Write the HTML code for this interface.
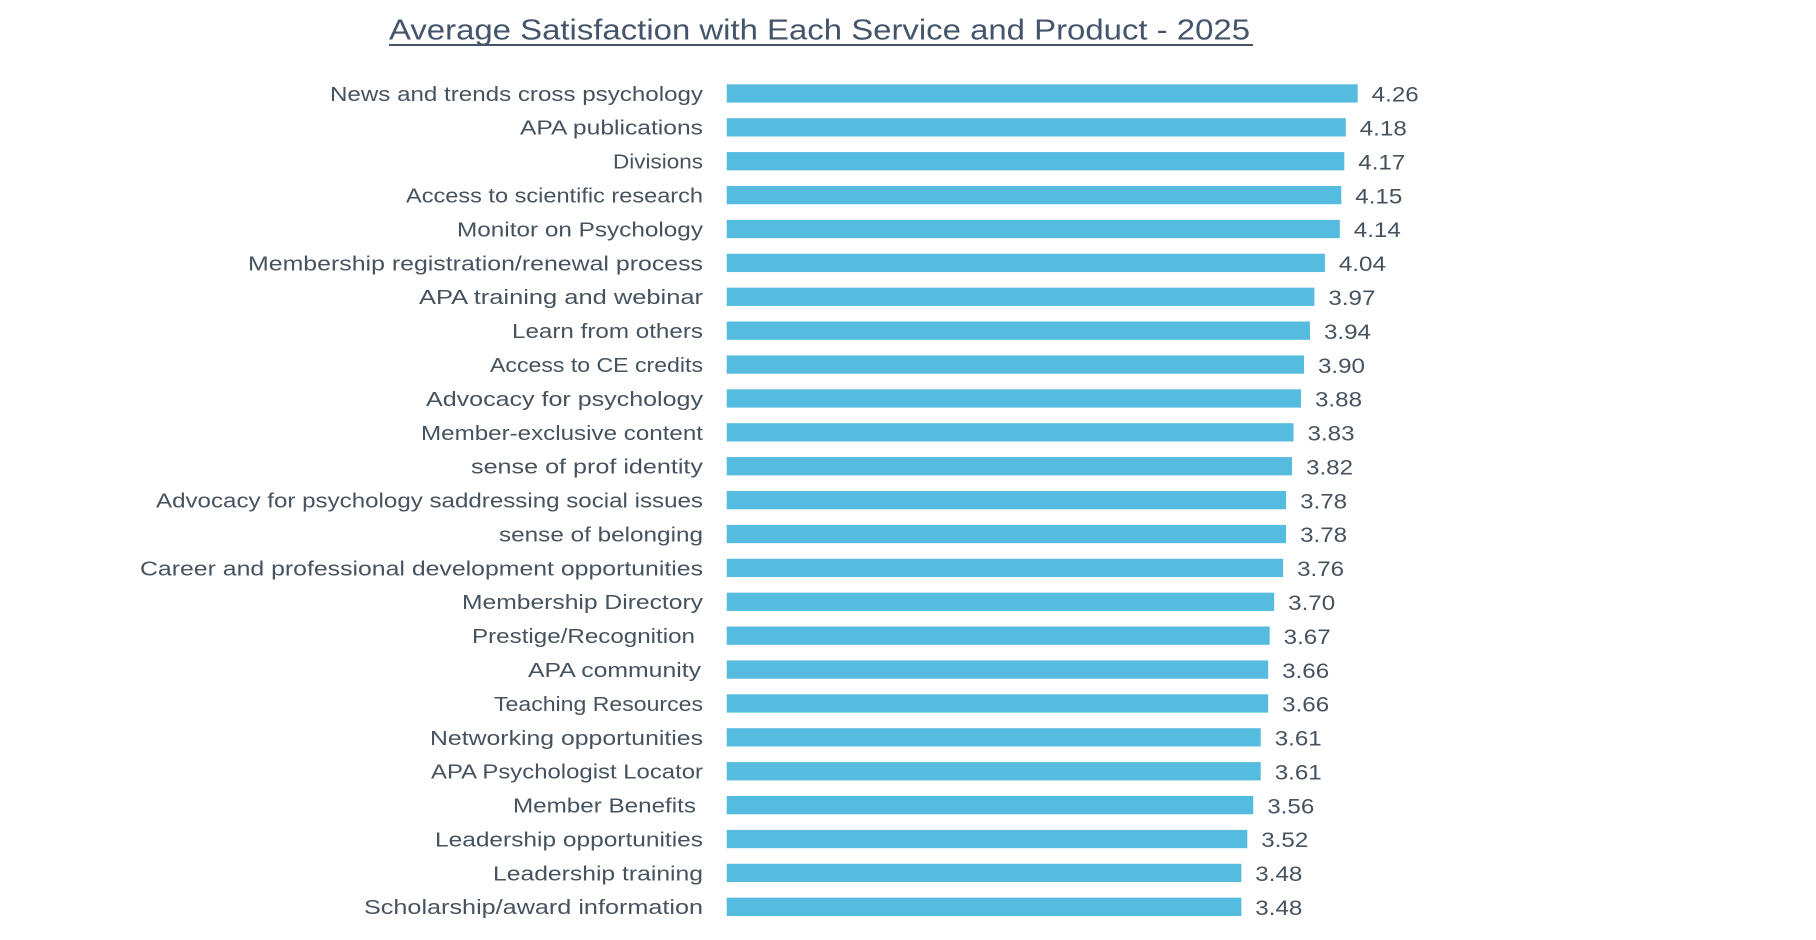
<!DOCTYPE html>
<html>
<head>
<meta charset="utf-8">
<style>
  html, body { margin: 0; padding: 0; background: #ffffff; }
  body { width: 1816px; height: 940px; overflow: hidden; }
  svg { display: block; }
  .t { font-family: "Liberation Sans", sans-serif; fill: #44546A; }
  .lab { font-family: "Liberation Sans", sans-serif; font-size: 20.5px; fill: #46535f; }
  .val { font-family: "Liberation Sans", sans-serif; font-size: 21px; fill: #46535f; }
</style>
</head>
<body>
<svg width="1816" height="940" viewBox="0 0 1816 940" xmlns="http://www.w3.org/2000/svg">
  <rect x="0" y="0" width="1816" height="940" fill="#ffffff"/>
  <text class="t" x="389" y="39.5" font-size="29" textLength="861" lengthAdjust="spacingAndGlyphs">Average Satisfaction with Each Service and Product - 2025</text>
  <rect x="389" y="44" width="864" height="2" fill="#44546A"/>
  <g id="chart"></g>
</svg>
<script>
(function(){
  var data = [
    ["News and trends cross psychology", 4.26, 330, 703],
    ["APA publications", 4.18, 520, 703],
    ["Divisions", 4.17, 613, 703],
    ["Access to scientific research", 4.15, 406, 703],
    ["Monitor on Psychology", 4.14, 457, 703],
    ["Membership registration/renewal process", 4.04, 248, 703],
    ["APA training and webinar", 3.97, 419, 703],
    ["Learn from others", 3.94, 512, 703],
    ["Access to CE credits", 3.90, 490, 703],
    ["Advocacy for psychology", 3.88, 426, 703],
    ["Member-exclusive content", 3.83, 421, 703],
    ["sense of prof identity", 3.82, 471, 703],
    ["Advocacy for psychology saddressing social issues", 3.78, 156, 703],
    ["sense of belonging", 3.78, 499, 703],
    ["Career and professional development opportunities", 3.76, 140, 703],
    ["Membership Directory", 3.70, 462, 703],
    ["Prestige/Recognition", 3.67, 472, 695],
    ["APA community", 3.66, 528, 701],
    ["Teaching Resources", 3.66, 494, 703],
    ["Networking opportunities", 3.61, 430, 703],
    ["APA Psychologist Locator", 3.61, 431, 703],
    ["Member Benefits", 3.56, 513, 696],
    ["Leadership opportunities", 3.52, 435, 703],
    ["Leadership training", 3.48, 493, 703],
    ["Scholarship/award information", 3.48, 364, 703]
  ];
  var NS = "http://www.w3.org/2000/svg";
  var g = document.getElementById("chart");
  var left = 726.7, top0 = 84.3, pitch = 33.89, bh = 18.3;
  for (var i = 0; i < data.length; i++) {
    var d = data[i];
    var top = top0 + i * pitch;
    var right = 1357.7 - (4.26 - d[1]) * 149.2;
    var r = document.createElementNS(NS, "rect");
    r.setAttribute("x", left);
    r.setAttribute("y", top.toFixed(2));
    r.setAttribute("width", (right - left).toFixed(2));
    r.setAttribute("height", bh);
    r.setAttribute("fill", "#55BBDF");
    g.appendChild(r);

    var t = document.createElementNS(NS, "text");
    t.setAttribute("class", "lab");
    t.setAttribute("x", d[2]);
    t.setAttribute("y", (top + bh / 2 + 7.4).toFixed(2));
    t.setAttribute("textLength", d[3] - d[2]);
    t.setAttribute("lengthAdjust", "spacingAndGlyphs");
    t.textContent = d[0];
    g.appendChild(t);

    var v = document.createElementNS(NS, "text");
    v.setAttribute("class", "val");
    v.setAttribute("x", (right + 14).toFixed(2));
    v.setAttribute("y", (top + bh / 2 + 8.2).toFixed(2));
    v.setAttribute("textLength", "47");
    v.setAttribute("lengthAdjust", "spacingAndGlyphs");
    v.textContent = d[1].toFixed(2);
    g.appendChild(v);
  }
})();
</script>
</body>
</html>
